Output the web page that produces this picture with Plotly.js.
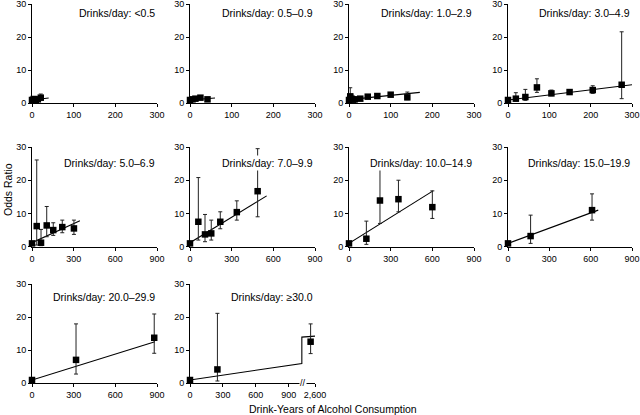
<!DOCTYPE html>
<html>
<head>
<meta charset="utf-8">
<script src="https://cdn.plot.ly/plotly-3.0.1.min.js"></script>
<style>html,body{margin:0;padding:0;background:#fff;}#chart{width:640px;height:415px;}</style>
</head>
<body>
<div id="chart"></div>
<script>
// ---- data ----
const panelLabels = ["Drinks/day: <0.5", "Drinks/day: 0.5–0.9", "Drinks/day: 1.0–2.9", "Drinks/day: 3.0–4.9",
  "Drinks/day: 5.0–6.9", "Drinks/day: 7.0–9.9", "Drinks/day: 10.0–14.9", "Drinks/day: 15.0–19.9",
  "Drinks/day: 20.0–29.9", "Drinks/day: ≥30.0"];

const x1 = [0, 4, 9, 14, 21];
const y1 = [1, 1.3, 1.0, 1.2, 1.7];
const hi1 = [1, 1.9, 1.5, 1.7, 2.8];
const lo1 = [1, 0.8, 0.7, 0.8, 1.0];
const fitX1 = [0, 40], fitY1 = [1, 1.6];

const x2 = [0, 6, 13, 25, 42];
const y2 = [1, 1.2, 1.4, 1.7, 1.2];
const hi2 = [1, 1.6, 1.8, 2.2, 1.7];
const lo2 = [1, 0.9, 1.1, 1.3, 0.8];
const fitX2 = [0, 60], fitY2 = [1, 1.6];

const x3 = [0, 3, 6, 10, 14, 27, 45, 68, 100, 140];
const y3 = [1, 2.1, 1.4, 1.1, 1.2, 1.4, 2.0, 2.2, 2.6, 1.8];
const hi3 = [1, 4.7, 2.5, 1.8, 1.6, 1.8, 2.4, 2.6, 3.1, 3.4];
const lo3 = [1, 0.9, 0.8, 0.6, 0.9, 1.1, 1.7, 1.9, 2.2, 1.1];
const fitX3 = [0, 170], fitY3 = [1.1, 3.3];

const x4 = [0, 19, 42, 70, 105, 149, 205, 275];
const y4 = [1, 1.4, 1.9, 4.8, 3.0, 3.4, 4.0, 5.6];
const hi4 = [1, 3.2, 4.2, 7.4, 4.0, 4.0, 5.3, 21.6];
const lo4 = [1, 0.7, 0.9, 3.3, 2.3, 2.8, 3.0, 1.4];
const fitX4 = [0, 300], fitY4 = [1, 5.6];

const x5 = [0, 34, 65, 106, 153, 218, 302];
const y5 = [1, 6.2, 1.2, 6.4, 5.0, 5.9, 5.5];
const hi5 = [1, 26.1, 5.2, 12.1, 7.2, 8.0, 8.0];
const lo5 = [1, 0.5, 0.3, 3.0, 3.4, 4.2, 3.7];
const fitX5 = [0, 345], fitY5 = [1.2, 7.8];

const x6 = [0, 60, 108, 153, 218, 337, 487];
const y6 = [1, 7.5, 3.7, 4.0, 7.5, 10.4, 16.7];
const hi6 = [1, 20.8, 9.7, 8.0, 10.5, 13.8, 29.5];
const lo6 = [1, 2.0, 1.5, 2.0, 5.4, 8.0, 9.0];
const fitX6 = [0, 552], fitY6 = [1.2, 15.3];

const x7 = [0, 125, 223, 356, 600];
const y7 = [1, 2.4, 13.9, 14.3, 11.9];
const hi7 = [1, 7.7, 24.0, 20.0, 16.8];
const lo7 = [1, 0.7, 7.0, 10.5, 8.5];
const fitX7 = [0, 605], fitY7 = [1, 16.8];

const x8 = [0, 164, 610];
const y8 = [1, 3.2, 11.0];
const hi8 = [1, 9.5, 15.9];
const lo8 = [1, 1.0, 8.0];
const fitX8 = [0, 655], fitY8 = [1, 11.0];

const x9 = [0, 317, 880];
const y9 = [1, 7.1, 13.8];
const hi9 = [1, 18.0, 21.0];
const lo9 = [1, 2.8, 9.1];
const fitX9 = [0, 885], fitY9 = [1, 12.6];

const x10 = [0, 250, 2560];
const y10 = [1, 4.2, 12.6];
const hi10 = [1, 21.2, 18.0];
const lo10 = [1, 0.7, 9.0];
const fitX10 = [0, 1020, 2480, 2600], fitY10 = [1, 6, 14, 14.3];

const xTicksSmall = [0, 100, 200, 300];
const xTicksLarge = [0, 300, 600, 900];
const yTicks = [0, 10, 20, 30];
const brokenTickVals = [0, 300, 600, 900, 2600];
const brokenTickText = ["0", "300", "600", "900", "2,600"];

// ---- broken axis transform for the last panel ----
const BREAK_LO = 1020, BREAK_HI = 2480;
function brk(v) { return v <= BREAK_LO ? v : BREAK_LO + (v - BREAK_HI); }

const panels = [
  [x1, y1, hi1, lo1, fitX1, fitY1],
  [x2, y2, hi2, lo2, fitX2, fitY2],
  [x3, y3, hi3, lo3, fitX3, fitY3],
  [x4, y4, hi4, lo4, fitX4, fitY4],
  [x5, y5, hi5, lo5, fitX5, fitY5],
  [x6, y6, hi6, lo6, fitX6, fitY6],
  [x7, y7, hi7, lo7, fitX7, fitY7],
  [x8, y8, hi8, lo8, fitX8, fitY8],
  [x9, y9, hi9, lo9, fitX9, fitY9],
  [x10, y10, hi10, lo10, fitX10, fitY10]
];

// ---- layout geometry (pixels) ----
const W = 640, H = 415;
const colPx = [[32, 157], [190, 315], [349, 474], [508, 632]];
const rowPx = [[4, 103.3], [147, 246.7], [284.3, 383.3]];
const titleY = [0.905, 0.835, 0.875];

const font = "Liberation Sans, Arial, sans-serif";
const traces = [];
const layout = {
  width: W, height: H,
  margin: {l: 0, r: 0, t: 0, b: 0},
  paper_bgcolor: "#fff", plot_bgcolor: "#fff",
  showlegend: false,
  font: {family: font, color: "#000", size: 9},
  annotations: []
};

panels.forEach((p, i) => {
  const n = i + 1;
  const row = Math.floor(i / 4), col = i % 4;
  const xa = "x" + (n === 1 ? "" : n), ya = "y" + (n === 1 ? "" : n);
  const isBroken = (n === 10);
  const tx = isBroken ? p[0].map(brk) : p[0];
  const fx = isBroken ? p[4].map(brk) : p[4];
  // fit line
  traces.push({
    type: "scatter", mode: "lines", x: fx, y: p[5], xaxis: xa, yaxis: ya,
    line: {color: "#000", width: 1.1}, hoverinfo: "skip"
  });
  // points with CI
  traces.push({
    type: "scatter", mode: "markers", x: tx, y: p[1], xaxis: xa, yaxis: ya,
    cliponaxis: false,
    marker: {symbol: "square", size: 6.5, color: "#000"},
    error_y: {
      type: "data", symmetric: false,
      array: p[2].map((h, k) => h - p[1][k]),
      arrayminus: p[1].map((v, k) => v - p[3][k]),
      color: "#222", thickness: 1, width: 2
    }
  });
  const xdom = [colPx[col][0] / W, colPx[col][1] / W];
  const ydom = [1 - rowPx[row][1] / H, 1 - rowPx[row][0] / H];
  const xKey = "xaxis" + (n === 1 ? "" : n), yKey = "yaxis" + (n === 1 ? "" : n);
  const axCommon = {
    showgrid: false, zeroline: false, showline: true, linecolor: "#000", linewidth: 1,
    ticks: "outside", ticklen: 3, tickcolor: "#000", tickwidth: 1, ticklabeloverflow: "allow",
    tickfont: {family: font, size: 9, color: "#000"}, fixedrange: true
  };
  let xax;
  if (row === 0) {
    xax = Object.assign({}, axCommon, {range: [0, 300], tickvals: xTicksSmall});
  } else if (isBroken) {
    xax = Object.assign({}, axCommon, {range: [0, brk(2600)], tickvals: brokenTickVals.map(brk), ticktext: brokenTickText});
  } else {
    xax = Object.assign({}, axCommon, {range: [0, 900], tickvals: xTicksLarge});
  }
  xax.domain = xdom; xax.anchor = ya;
  layout[xKey] = xax;
  layout[yKey] = Object.assign({}, axCommon, {range: [0, 30], tickvals: yTicks, domain: ydom, anchor: xa});
  layout.annotations.push({
    text: panelLabels[i], xref: xa + " domain", yref: ya + " domain",
    x: 1, y: titleY[row], xanchor: "right", yanchor: "middle", showarrow: false,
    font: {family: font, size: 10.5, color: "#000"}, bgcolor: "#fff", borderpad: 1
  });
});

// axis break mark on the last panel
layout.annotations.push({
  text: "//", xref: "x10", yref: "y10", x: brk(BREAK_LO) + 8, y: 0,
  xanchor: "center", yanchor: "middle", showarrow: false,
  font: {family: font, size: 9, color: "#000"}, bgcolor: "#fff", borderpad: 0
});
// shared axis titles
layout.annotations.push({
  text: "Odds Ratio", xref: "paper", yref: "paper", x: 8 / W, y: 1 - 190 / H,
  xanchor: "center", yanchor: "middle", textangle: -90, showarrow: false,
  font: {family: font, size: 10.5, color: "#000"}
});
layout.annotations.push({
  text: "Drink-Years of Alcohol Consumption", xref: "paper", yref: "paper", x: 333 / W, y: 1 - 409 / H,
  xanchor: "center", yanchor: "middle", showarrow: false,
  font: {family: font, size: 10.5, color: "#000"}
});

Plotly.newPlot("chart", traces, layout, {staticPlot: true, displayModeBar: false});
</script>
</body>
</html>
